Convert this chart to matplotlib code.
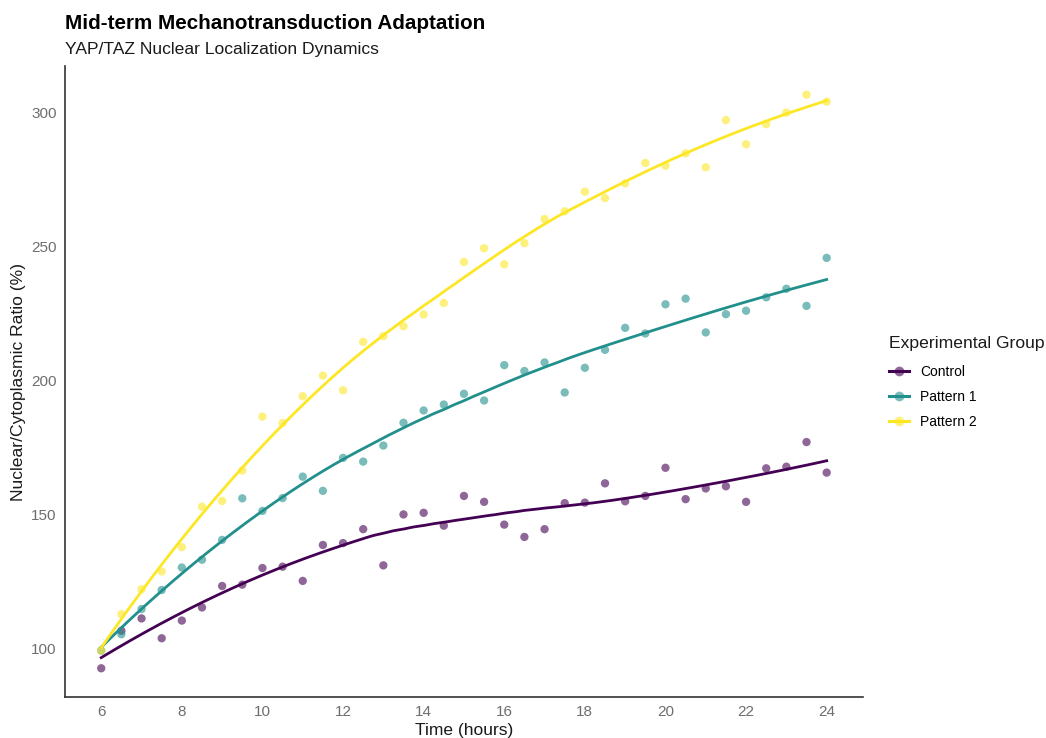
import numpy as np
import matplotlib
matplotlib.use("Agg")
import matplotlib.pyplot as plt
from matplotlib.lines import Line2D
from matplotlib.legend_handler import HandlerTuple

plt.rcParams['font.family'] = ['Liberation Sans', 'DejaVu Sans']

# Sampling times (hours)
time_h = np.arange(6, 24.01, 0.5)

# Nuclear/cytoplasmic ratio (%) per group
control = [92.8, 106.8, 111.4, 104.0, 110.6, 115.5, 123.5, 124.0, 130.2, 130.7,
           125.4, 138.8, 139.5, 144.7, 131.2, 150.2, 150.8, 146.0, 157.1, 154.9,
           146.4, 141.8, 144.7, 154.4, 154.6, 161.8, 155.1, 157.1, 167.6, 155.9,
           159.9, 160.7, 154.9, 167.4, 168.0, 177.2, 165.8]
pattern1 = [99.4, 105.5, 114.9, 122.0, 130.4, 133.3, 140.7, 156.2, 151.5, 156.3,
            164.3, 159.0, 171.3, 169.9, 175.9, 184.4, 189.0, 191.2, 195.2, 192.7,
            205.9, 203.7, 206.9, 195.7, 204.9, 211.6, 219.8, 217.7, 228.6, 230.7,
            218.1, 224.9, 226.2, 231.2, 234.4, 228.0, 245.9]
pattern2 = [99.4, 113.0, 122.3, 128.9, 138.0, 153.1, 155.2, 166.6, 186.7, 184.3,
            194.3, 202.0, 196.5, 214.6, 216.7, 220.4, 224.8, 229.1, 244.4, 249.5,
            243.5, 251.4, 260.4, 263.3, 270.6, 268.2, 273.7, 281.3, 280.3, 284.9,
            279.7, 297.3, 288.3, 295.8, 300.1, 306.8, 304.2]

groups = ["Control", "Pattern 1", "Pattern 2"]
series = [control, pattern1, pattern2]
colors = ["#440154", "#21908C", "#FDE725"]


def loess(x, y, xs, span=0.75):
    """Local quadratic regression with tricube weights."""
    x = np.asarray(x, float)
    y = np.asarray(y, float)
    n = len(x)
    k = int(np.ceil(span * n))
    out = []
    for x0 in xs:
        d = np.abs(x - x0)
        h = np.sort(d)[k - 1]
        w = (1 - np.clip(d / h, 0, 1) ** 3) ** 3
        X = np.column_stack([np.ones(n), x - x0, (x - x0) ** 2])
        W = np.sqrt(w)
        beta, *_ = np.linalg.lstsq(X * W[:, None], y * W, rcond=None)
        out.append(beta[0])
    return np.array(out)


fig = plt.figure(figsize=(10.46, 7.38), dpi=100)
ax = fig.add_axes([0.0621, 0.0556, 0.7629, 0.855])

xs = np.linspace(time_h.min(), time_h.max(), 200)
for name, vals, c in zip(groups, series, colors):
    ax.scatter(time_h, vals, s=36, color=c, alpha=0.6, edgecolors='none', zorder=2)
    ax.plot(xs, loess(time_h, vals, xs), color=c, lw=2.0, zorder=3)

ax.set_xlim(5.1, 24.9)
ax.set_ylim(82.1, 317.5)
ax.set_xticks(np.arange(6, 25, 2))
ax.set_yticks([100, 150, 200, 250, 300])
ax.tick_params(length=0, labelsize=11, labelcolor="#6e6e6e", pad=6)
for side in ["top", "right"]:
    ax.spines[side].set_visible(False)
for side in ["left", "bottom"]:
    ax.spines[side].set_color("#333333")
    ax.spines[side].set_linewidth(1.2)

ax.set_xlabel("Time (hours)", fontsize=12.5, color="#1a1a1a", labelpad=3)
ax.set_ylabel("Nuclear/Cytoplasmic Ratio (%)", fontsize=12.6, color="#1a1a1a", labelpad=4)

fig.text(0.0621, 0.968, "Mid-term Mechanotransduction Adaptation",
         fontsize=14.9, fontweight="bold", color="black", va="center", ha="left")
fig.text(0.0621, 0.933, "YAP/TAZ Nuclear Localization Dynamics",
         fontsize=12.6, color="#1a1a1a", va="center", ha="left")

handles = []
for c in colors:
    ln = Line2D([0], [0], color=c, lw=2.2)
    mk = Line2D([0], [0], linestyle='none', marker='o', markersize=7,
                markerfacecolor=c, markeredgecolor='none', alpha=0.6)
    handles.append((ln, mk))
leg = fig.legend(handles, groups, title="Experimental Group",
                 handler_map={tuple: HandlerTuple(ndivide=1, pad=0)},
                 loc="upper left", bbox_to_anchor=(0.8495, 0.545),
                 frameon=False, fontsize=10, title_fontsize=12.6,
                 handlelength=1.45, handletextpad=0.8, labelspacing=0.8,
                 borderaxespad=0, borderpad=0)
leg._legend_box.align = "left"
leg._legend_box.sep = 10
leg.get_title().set_color("#1a1a1a")

fig.savefig("out.png", dpi=100, facecolor="white")
